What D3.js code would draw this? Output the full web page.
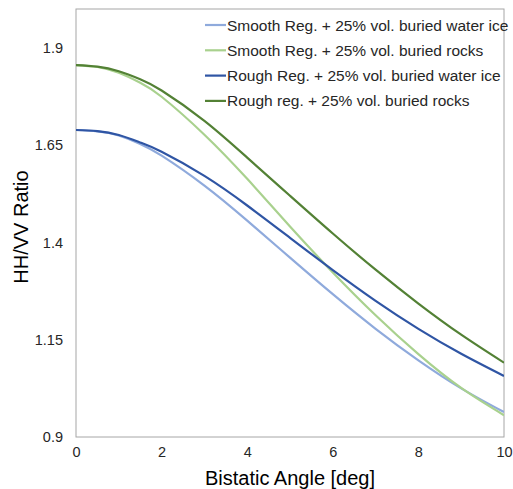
<!DOCTYPE html>
<html>
<head>
<meta charset="utf-8">
<script src="https://cdn.jsdelivr.net/npm/d3@7"></script>
<style>
  html, body { margin: 0; padding: 0; background: #fff; }
  svg { display: block; font-family: "Liberation Sans", Arial, Helvetica, sans-serif; }
</style>
</head>
<body>
<svg id="chart" width="513" height="489"></svg>
<script>
const angles = [0, 0.5, 1, 1.5, 2, 3, 4, 5, 6, 7, 8, 9, 10];
const smoothIce   = [1.689, 1.6855, 1.675, 1.653, 1.623, 1.546, 1.456, 1.361, 1.267, 1.178, 1.097, 1.025, 0.964];
const smoothRocks = [1.856, 1.851, 1.836, 1.8105, 1.7745, 1.677, 1.5635, 1.441, 1.323, 1.213, 1.113, 1.026, 0.956];
const roughIce    = [1.689, 1.686, 1.676, 1.657, 1.633, 1.571, 1.495, 1.412, 1.329, 1.250, 1.178, 1.114, 1.057];
const roughRocks  = [1.856, 1.852, 1.840, 1.8195, 1.7905, 1.7125, 1.618, 1.520, 1.423, 1.330, 1.243, 1.163, 1.091];
const seriesNames = [
  "Smooth Reg. + 25% vol. buried water ice",
  "Smooth Reg. + 25% vol. buried rocks",
  "Rough Reg. + 25% vol. buried water ice",
  "Rough reg. + 25% vol. buried rocks"
];
const seriesColors = ["#8faadc", "#a9d18e", "#2f55a4", "#538135"];
const xTicks = [0, 2, 4, 6, 8, 10];
const yTicks = [0.9, 1.15, 1.4, 1.65, 1.9];

const seriesValues = [smoothIce, smoothRocks, roughIce, roughRocks];

const svg = d3.select("#chart");
const pL = 76, pR = 504, pT = 9, pB = 437;

const x = d3.scaleLinear().domain([0, 10]).range([pL, pR]);
const y = d3.scaleLinear().domain([0.9, 2.0]).range([pB, pT]);

// frame
svg.append("rect")
  .attr("x", pL).attr("y", pT)
  .attr("width", pR - pL).attr("height", pB - pT)
  .attr("fill", "none").attr("stroke", "#a6a6a6").attr("stroke-width", 1);

// axes
const xAxis = d3.axisBottom(x).tickValues(xTicks).tickSize(0).tickPadding(10).tickFormat(d3.format("d"));
const gx = svg.append("g").attr("transform", `translate(0,${pB})`).call(xAxis);
gx.select(".domain").remove();
gx.selectAll("text").attr("font-size", 14.5).attr("fill", "#262626")
  .attr("font-family", "Liberation Sans, Arial, sans-serif");

const yAxis = d3.axisLeft(y).tickValues(yTicks).tickSize(0).tickPadding(13).tickFormat(d => String(d));
const gy = svg.append("g").attr("transform", `translate(${pL},0)`).call(yAxis);
gy.select(".domain").remove();
gy.selectAll("text").attr("font-size", 14.5).attr("fill", "#262626")
  .attr("font-family", "Liberation Sans, Arial, sans-serif");

// titles
svg.append("text")
  .attr("x", (pL + pR) / 2).attr("y", 485)
  .attr("text-anchor", "middle").attr("font-size", 20).attr("fill", "#000")
  .text("Bistatic Angle [deg]");
svg.append("text")
  .attr("transform", `translate(28,${(pT + pB) / 2 + 4}) rotate(-90)`)
  .attr("text-anchor", "middle").attr("font-size", 20).attr("fill", "#000")
  .text("HH/VV Ratio");

// lines
const line = d3.line()
  .x((d, i) => x(angles[i]))
  .y(d => y(d))
  .curve(d3.curveNatural);

svg.append("clipPath").attr("id", "clip")
  .append("rect").attr("x", pL).attr("y", pT).attr("width", pR - pL).attr("height", pB - pT);

seriesValues.forEach((vals, k) => {
  svg.append("path")
    .attr("d", line(vals))
    .attr("fill", "none")
    .attr("stroke", seriesColors[k])
    .attr("stroke-width", 2.2)
    .attr("clip-path", "url(#clip)");
});

// legend
const lg = svg.append("g");
seriesNames.forEach((name, k) => {
  const yy = 25 + k * 25.3;
  lg.append("line")
    .attr("x1", 205).attr("x2", 226).attr("y1", yy).attr("y2", yy)
    .attr("stroke", seriesColors[k]).attr("stroke-width", 2.2);
  lg.append("text")
    .attr("x", 227).attr("y", yy + 5.5)
    .attr("font-size", 15.5).attr("fill", "#262626")
    .text(name);
});
</script>
</body>
</html>
